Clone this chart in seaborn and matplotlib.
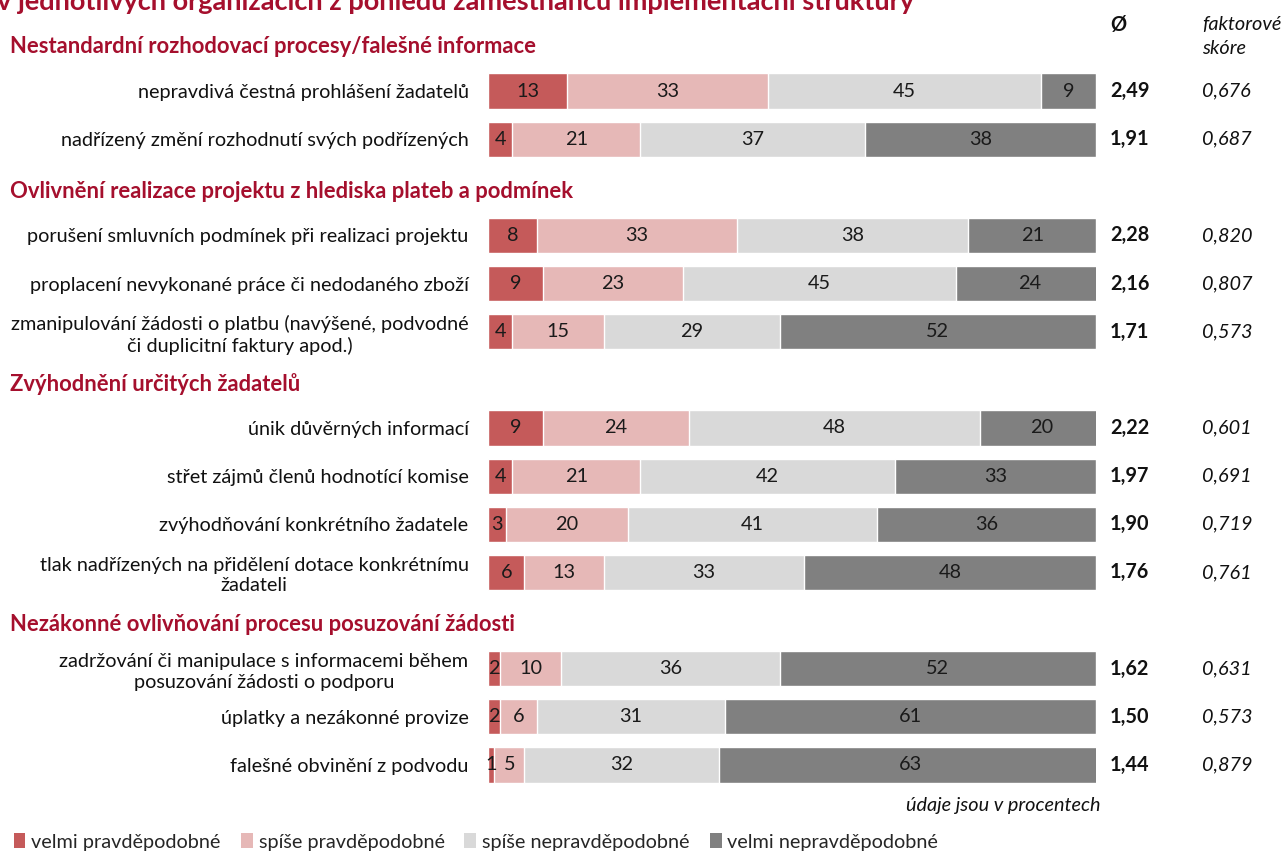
import numpy as np
import pandas as pd
import matplotlib
matplotlib.use("Agg")
import matplotlib.pyplot as plt
from matplotlib.patches import Patch
import seaborn as sns

# data (percent)
title = "v jednotlivých organizacích z pohledu zaměstnanců implementační struktury"
groups = [
    "Nestandardní rozhodovací procesy/falešné informace",
    "Ovlivnění realizace projektu z hlediska plateb a podmínek",
    "Zvýhodnění určitých žadatelů",
    "Nezákonné ovlivňování procesu posuzování žádosti",
]
group_sizes = [2, 3, 4, 3]
items = [
    "nepravdivá čestná prohlášení žadatelů",
    "nadřízený změní rozhodnutí svých podřízených",
    "porušení smluvních podmínek při realizaci projektu",
    "proplacení nevykonané práce či nedodaného zboží",
    "zmanipulování žádosti o platbu (navýšené, podvodné\nči duplicitní faktury apod.)",
    "únik důvěrných informací",
    "střet zájmů členů hodnotící komise",
    "zvýhodňování konkrétního žadatele",
    "tlak nadřízených na přidělení dotace konkrétnímu\nžadateli",
    "zadržování či manipulace s informacemi během\nposuzování žádosti o podporu",
    "úplatky a nezákonné provize",
    "falešné obvinění z podvodu",
]
velmi_prav = [13, 4, 8, 9, 4, 9, 4, 3, 6, 2, 2, 1]
spise_prav = [33, 21, 33, 23, 15, 24, 21, 20, 13, 10, 6, 5]
spise_neprav = [45, 37, 38, 45, 29, 48, 42, 41, 33, 36, 31, 32]
velmi_neprav = [9, 38, 21, 24, 52, 20, 33, 36, 48, 52, 61, 63]
prumer = ["2,49", "1,91", "2,28", "2,16", "1,71", "2,22", "1,97", "1,90", "1,76", "1,62", "1,50", "1,44"]
faktor = ["0,676", "0,687", "0,820", "0,807", "0,573", "0,601", "0,691", "0,719", "0,761", "0,631", "0,573", "0,879"]
categories = ["velmi pravděpodobné", "spíše pravděpodobné", "spíše nepravděpodobné", "velmi nepravděpodobné"]

colors = ["#C55A5A", "#E6B8B7", "#D9D9D9", "#808080"]
red = "#A50F2D"

sns.set_theme(style="white")
plt.rcParams["font.family"] = ["Lato", "DejaVu Sans"]
fs = 14.3
fs_head = 15.8

# slot layout: each group header takes one row slot above its items
pos, head_pos = [], []
slot = 0
for n in group_sizes:
    head_pos.append(slot)
    pos.extend(range(slot + 1, slot + 1 + n))
    slot += n + 1

df = pd.DataFrame({"item": items, "pos": pos,
                   categories[0]: velmi_prav, categories[1]: spise_prav,
                   categories[2]: spise_neprav, categories[3]: velmi_neprav})
cum = df[categories].cumsum(axis=1)

fig = plt.figure(figsize=(12.88, 8.51), dpi=100)
ax = fig.add_axes([488 / 1288, 1 - 789 / 851, 608 / 1288, (789 - 18.8) / 851])

# stacked bars: draw cumulative totals from the widest down
for cat, col in reversed(list(zip(categories, colors))):
    sns.barplot(x=cum[cat], y=df["pos"], orient="h", native_scale=True,
                color=col, saturation=1, width=0.73, errorbar=None,
                linewidth=1, edgecolor="white", ax=ax)

for i, row in df.iterrows():
    left = 0
    for cat in categories:
        v = row[cat]
        ax.text(left + v / 2, row["pos"], str(v), ha="center", va="center",
                fontsize=fs, color="#1a1a1a")
        left += v
    ax.text(102.3, row["pos"], prumer[i], ha="left", va="center",
            fontsize=fs, fontweight="bold", color="#111111", clip_on=False)
    ax.text(117.4, row["pos"], faktor[i], ha="left", va="center",
            fontsize=fs, style="italic", color="#111111", clip_on=False)

ax.set_xlim(0, 100)
ax.set_ylim(slot - 0.5, -0.5)
ax.set_yticks(pos)
ax.set_yticklabels(items, fontsize=fs, color="#111111", linespacing=1.25)
for lab in ax.get_yticklabels():
    lab.set_multialignment("center")
ax.tick_params(axis="y", length=0, pad=14)
ax.set_xticks([])
ax.set_xlabel("")
ax.set_ylabel("")
sns.despine(ax=ax, left=True, bottom=True)

for g, hp in zip(groups, head_pos):
    ax.text(-78.6, hp + 0.08, g, ha="left", va="center", fontsize=fs_head,
            fontweight="bold", color=red, clip_on=False)

ax.text(102.3, -0.38, "Ø", ha="left", va="center", fontsize=fs,
        fontweight="bold", color="#111111", clip_on=False)
ax.text(117.4, -0.13, "faktorové\nskóre", ha="left", va="center", fontsize=fs,
        style="italic", color="#111111", linespacing=1.5, clip_on=False)

fig.text(-0.002, 1 - 10 / 851, title, ha="left", va="baseline", fontsize=19.5,
         fontweight="bold", color=red)
fig.text(1100 / 1288, 1 - 806 / 851, "údaje jsou v procentech", ha="right",
         va="center", fontsize=fs, style="italic", color="#111111")

handles = [Patch(facecolor=c, edgecolor="none", label=l) for c, l in zip(colors, categories)]
fig.legend(handles=handles, loc="center left", bbox_to_anchor=(0.0105, 1 - 842 / 851),
           ncol=4, frameon=False, fontsize=fs, handlelength=0.6, handleheight=0.8,
           handletextpad=0.3, columnspacing=1.0, borderaxespad=0, borderpad=0)

fig.savefig("out.png", dpi=100)
